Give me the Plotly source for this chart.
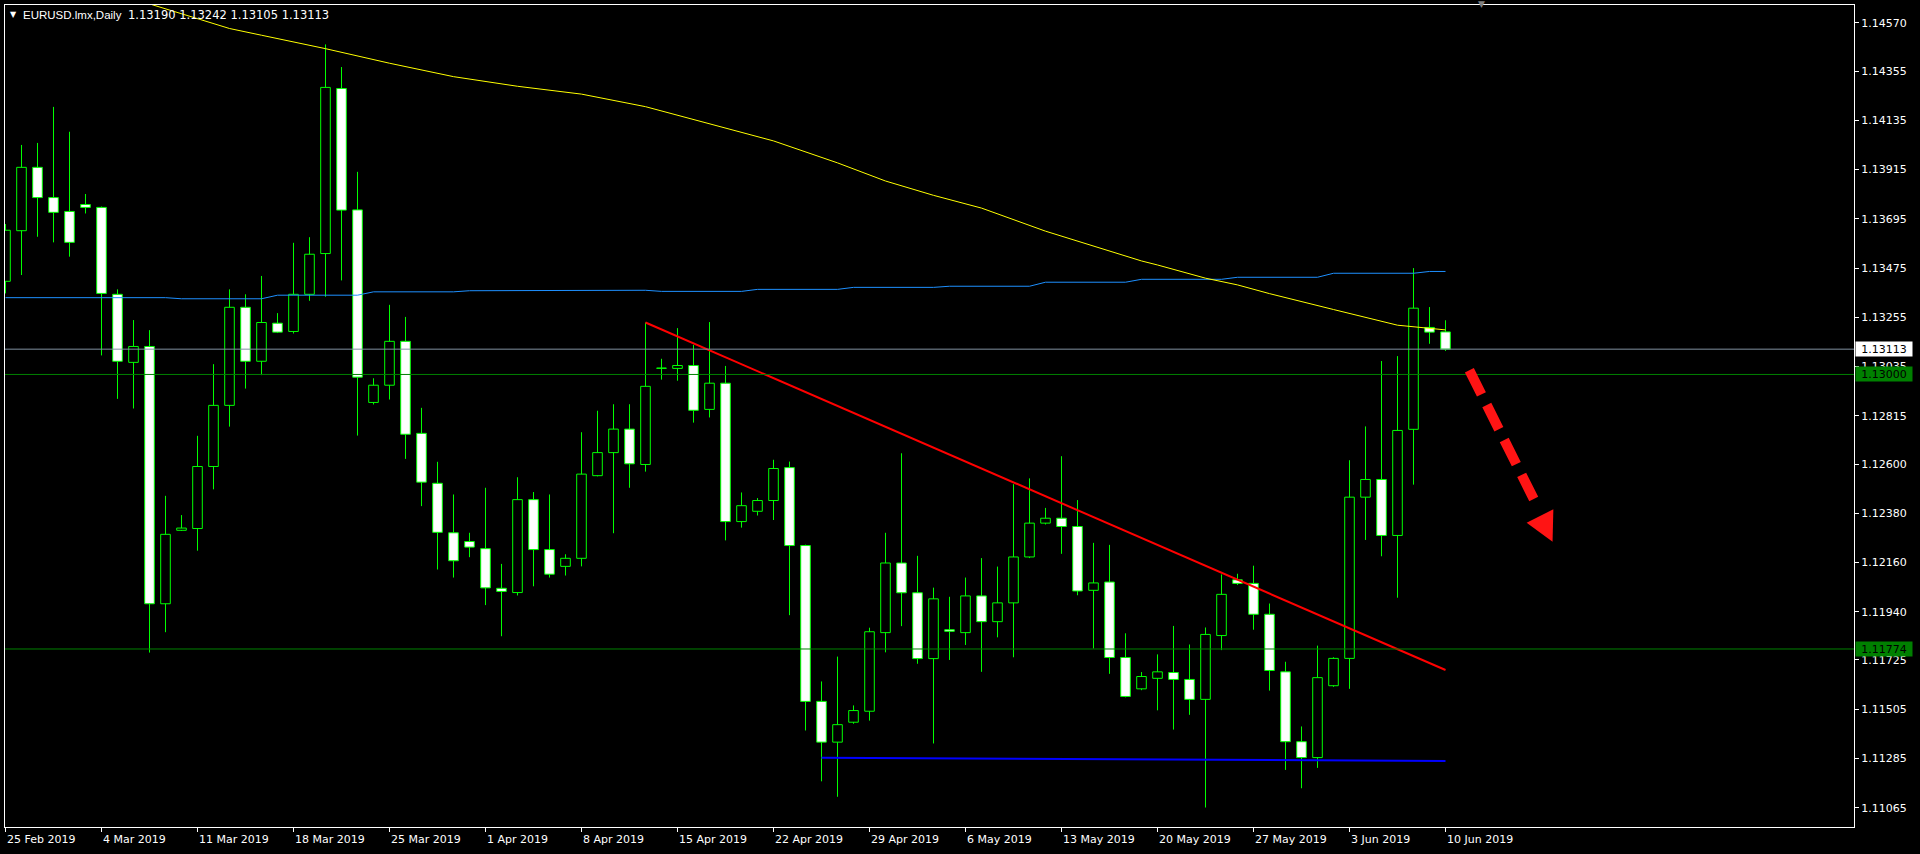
import plotly.graph_objects as go

# ---------------- data ----------------
date_labels = ["25 Feb 2019", "4 Mar 2019", "11 Mar 2019", "18 Mar 2019", "25 Mar 2019",
               "1 Apr 2019", "8 Apr 2019", "15 Apr 2019", "22 Apr 2019", "29 Apr 2019",
               "6 May 2019", "13 May 2019", "20 May 2019", "27 May 2019", "3 Jun 2019",
               "10 Jun 2019"]
date_label_bars = [0, 6, 12, 18, 24, 30, 36, 42, 48, 54, 60, 66, 72, 78, 84, 90]

opens = [1.13416, 1.13642, 1.13925, 1.13790, 1.13728, 1.13759, 1.13746, 1.13358, 1.13054, 1.13125,
         1.11976, 1.12304, 1.12312, 1.12589, 1.12862, 1.13300, 1.13059, 1.13229, 1.13192, 1.13358,
         1.13540, 1.14277, 1.13735, 1.12875, 1.12952, 1.13148, 1.12737, 1.12514, 1.12293, 1.12254,
         1.12222, 1.12045, 1.12026, 1.12441, 1.12218, 1.12143, 1.12179, 1.12548, 1.12651, 1.12756,
         1.12598, 1.13027, 1.13027, 1.13040, 1.12844, 1.12961, 1.12343, 1.12389, 1.12437, 1.12584,
         1.12236, 1.11540, 1.11358, 1.11447, 1.11496, 1.11847, 1.12158, 1.12025, 1.11731, 1.11860,
         1.11847, 1.12011, 1.11896, 1.11980, 1.12185, 1.12336, 1.12358, 1.12321, 1.12036, 1.12073,
         1.11736, 1.11596, 1.11643, 1.11669, 1.11638, 1.11549, 1.11834, 1.12083, 1.12067, 1.11929,
         1.11672, 1.11360, 1.11289, 1.11610, 1.11732, 1.12452, 1.12531, 1.12281, 1.12755, 1.13210,
         1.13190]
highs = [1.13672, 1.14025, 1.14034, 1.14195, 1.14084, 1.13806, 1.13750, 1.13380, 1.13243, 1.13198,
         1.12458, 1.12372, 1.12726, 1.13046, 1.13380, 1.13358, 1.13440, 1.13274, 1.13588, 1.13613,
         1.14474, 1.14373, 1.13905, 1.12983, 1.13311, 1.13257, 1.12851, 1.12610, 1.12464, 1.12293,
         1.12494, 1.12154, 1.12541, 1.12475, 1.12464, 1.12197, 1.12742, 1.12838, 1.12867, 1.12867,
         1.13232, 1.13070, 1.13207, 1.13132, 1.13234, 1.13038, 1.12473, 1.12448, 1.12619, 1.12611,
         1.12240, 1.11629, 1.11740, 1.11522, 1.11869, 1.12293, 1.12648, 1.12190, 1.12048, 1.12007,
         1.12093, 1.12180, 1.12142, 1.12510, 1.12536, 1.12404, 1.12635, 1.12439, 1.12248, 1.12239,
         1.11844, 1.11671, 1.11750, 1.11877, 1.11794, 1.11870, 1.12107, 1.12110, 1.12146, 1.11977,
         1.11717, 1.11428, 1.11789, 1.11737, 1.12617, 1.12768, 1.13060, 1.13082, 1.13475, 1.13301,
         1.13242]
lows = [1.13362, 1.13444, 1.13615, 1.13590, 1.13526, 1.13719, 1.13085, 1.12891, 1.12848, 1.11758,
        1.11849, 1.12301, 1.12213, 1.12487, 1.12767, 1.12937, 1.12997, 1.13185, 1.13183, 1.13329,
        1.13347, 1.13420, 1.12727, 1.12866, 1.12888, 1.12623, 1.12412, 1.12129, 1.12093, 1.12184,
        1.11970, 1.11831, 1.12013, 1.12054, 1.12093, 1.12102, 1.12143, 1.12545, 1.12291, 1.12494,
        1.12566, 1.12977, 1.12972, 1.12785, 1.12808, 1.12259, 1.12316, 1.12370, 1.12350, 1.11925,
        1.11410, 1.11183, 1.11114, 1.11440, 1.11454, 1.11759, 1.11876, 1.11708, 1.11352, 1.11725,
        1.11792, 1.11672, 1.11826, 1.11737, 1.12180, 1.12330, 1.12199, 1.12014, 1.11776, 1.11663,
        1.11558, 1.11590, 1.11500, 1.11414, 1.11480, 1.11066, 1.11769, 1.12060, 1.11860, 1.11588,
        1.11234, 1.11152, 1.11243, 1.11605, 1.11596, 1.12261, 1.12188, 1.12003, 1.12508, 1.13137,
        1.13105]
closes = [1.13644, 1.13925, 1.13790, 1.13724, 1.13590, 1.13746, 1.13362, 1.13059, 1.13125, 1.11976,
          1.12286, 1.12314, 1.12589, 1.12862, 1.13300, 1.13059, 1.13232, 1.13189, 1.13358, 1.13537,
          1.14282, 1.13734, 1.12988, 1.12952, 1.13148, 1.12733, 1.12519, 1.12295, 1.12168, 1.12229,
          1.12047, 1.12031, 1.12441, 1.12218, 1.12108, 1.12179, 1.12555, 1.12651, 1.12756, 1.12601,
          1.12947, 1.13029, 1.13040, 1.12840, 1.12961, 1.12343, 1.12414, 1.12437, 1.12580, 1.12236,
          1.11540, 1.11358, 1.11436, 1.11499, 1.11851, 1.12158, 1.12025, 1.11731, 1.11998, 1.11853,
          1.12011, 1.11896, 1.11980, 1.12185, 1.12336, 1.12358, 1.12321, 1.12033, 1.12069, 1.11736,
          1.11562, 1.11651, 1.11672, 1.11638, 1.11549, 1.11839, 1.12018, 1.12067, 1.11929, 1.11678,
          1.11360, 1.11289, 1.11646, 1.11732, 1.12452, 1.12531, 1.12281, 1.12750, 1.13296, 1.13189,
          1.13113]

# yellow moving average (bar index, value)
ma_yellow_bars = [9, 12, 14, 16, 20, 24, 28, 32, 36, 40, 44, 48, 52, 55, 58, 61, 65, 68, 71, 72,
                  75, 77, 79, 83, 87, 90]
ma_yellow = [1.14655, 1.14588, 1.14545, 1.14515, 1.14455, 1.14390, 1.14330, 1.14287, 1.14252,
             1.14196, 1.14118, 1.14043, 1.13945, 1.13864, 1.13800, 1.13743, 1.13640, 1.13572,
             1.13507, 1.13489, 1.13430, 1.13400, 1.13361, 1.13290, 1.13220, 1.13199]

# blue moving average: one value per trading week (week starts on the Sunday bar)
ma_blue_weekly = [1.13343, 1.13343, 1.13338, 1.13354, 1.13369, 1.13374, 1.13376, 1.13371,
                  1.13380, 1.13389, 1.13394, 1.13412, 1.13425, 1.13434, 1.13452, 1.13460]

# drawn objects
resistance_bars = [40, 90]
resistance_prices = [1.13232, 1.11680]
support_bars = [51, 90]
support_prices = [1.11288, 1.11274]
level_prices = [1.13000, 1.11774]
bid_price = 1.13113

price_ticks = [1.14570, 1.14355, 1.14135, 1.13915, 1.13695, 1.13475, 1.13255, 1.13035, 1.12815,
               1.12600, 1.12380, 1.12160, 1.11940, 1.11725, 1.11505, 1.11285, 1.11065]

symbol_text = "EURUSD.lmx,Daily"
ohlc_text = "1.13190 1.13242 1.13105 1.13113"

# ---------------- figure ----------------
GREEN = "#00FF00"
n = len(opens)
idx = list(range(n))

# wicks (upper and lower separately so hollow bodies stay empty)
wx, wy = [], []
for i in idx:
    top = max(opens[i], closes[i])
    bot = min(opens[i], closes[i])
    if highs[i] > top:
        wx += [i, i, None]
        wy += [top, highs[i], None]
    if lows[i] < bot:
        wx += [i, i, None]
        wy += [bot, lows[i], None]

bases = [min(o, c) for o, c in zip(opens, closes)]
heights = [max(abs(c - o), 0.000015) for o, c in zip(opens, closes)]
fills = ["#000000" if c >= o else "#FFFFFF" for o, c in zip(opens, closes)]

fig = go.Figure()
fig.add_trace(go.Bar(x=idx, y=heights, base=bases, width=0.6,
                     marker=dict(color=fills, line=dict(color=GREEN, width=1)),
                     hoverinfo="skip"))
fig.add_trace(go.Scatter(x=wx, y=wy, mode="lines", line=dict(color=GREEN, width=1),
                         hoverinfo="skip"))

# weekly blue MA expanded over the bars of each week
def week_of(i):
    return 0 if i < 5 else (i + 1) // 6

blue_vals = [ma_blue_weekly[week_of(i)] for i in idx]
fig.add_trace(go.Scatter(x=idx, y=blue_vals, mode="lines",
                         line=dict(color="#1E90FF", width=1), hoverinfo="skip"))
fig.add_trace(go.Scatter(x=ma_yellow_bars, y=ma_yellow, mode="lines",
                         line=dict(color="#FFFF00", width=1), hoverinfo="skip"))
fig.add_trace(go.Scatter(x=resistance_bars, y=resistance_prices, mode="lines",
                         line=dict(color="#FF0000", width=2), hoverinfo="skip"))
fig.add_trace(go.Scatter(x=support_bars, y=support_prices, mode="lines",
                         line=dict(color="#0000FF", width=2), hoverinfo="skip"))

shapes = []
for p in level_prices:
    shapes.append(dict(type="line", xref="paper", yref="y", x0=0, x1=1, y0=p, y1=p,
                       line=dict(color="#008000", width=1), layer="above"))
shapes.append(dict(type="line", xref="paper", yref="y", x0=0, x1=1, y0=bid_price, y1=bid_price,
                   line=dict(color="#8090A0", width=1), layer="above"))
# red dashed forecast arrow
shapes.append(dict(type="line", xref="x", yref="y", x0=91.49, y0=1.13019, x1=95.75, y1=1.12410,
                   line=dict(color="#FF1414", width=10, dash="27px,12px"), layer="above"))
shapes.append(dict(type="path", xref="x", yref="y",
                   path="M 95.07,1.12338 L 96.74,1.12398 L 96.69,1.12253 Z",
                   fillcolor="#FF1414", line=dict(width=0), layer="above"))

annotations = []
FONT = "DejaVu Sans"
for b, t in zip(date_label_bars, date_labels):
    annotations.append(dict(x=b, y=0, xref="x", yref="paper", text=t, showarrow=False,
                            xanchor="left", yanchor="top", xshift=-1, yshift=-4,
                            font=dict(family=FONT, size=11, color="#FFFFFF")))
# price boxes on the right scale
annotations.append(dict(x=1, y=bid_price, xref="paper", yref="y", text=f"{bid_price:.5f}",
                        showarrow=False, xanchor="left", yanchor="middle", xshift=1,
                        bgcolor="#FFFFFF", width=54, height=12, borderpad=1,
                        font=dict(family=FONT, size=11, color="#000000")))
for p in level_prices:
    annotations.append(dict(x=1, y=p, xref="paper", yref="y", text=f"{p:.5f}",
                            showarrow=False, xanchor="left", yanchor="middle", xshift=1,
                            bgcolor="#008000", width=54, height=12, borderpad=1,
                            font=dict(family=FONT, size=11, color="#000000")))
# header
annotations.append(dict(x=0, y=1, xref="paper", yref="paper", text="▼", showarrow=False,
                        xanchor="center", yanchor="middle", xshift=8, yshift=-9,
                        font=dict(family=FONT, size=8, color="#FFFFFF")))
annotations.append(dict(x=0, y=1, xref="paper", yref="paper", text=symbol_text, showarrow=False,
                        xanchor="left", yanchor="middle", xshift=16, yshift=-10,
                        font=dict(family="Liberation Sans", size=11.5, color="#FFFFFF")))
annotations.append(dict(x=0, y=1, xref="paper", yref="paper", text=ohlc_text, showarrow=False,
                        xanchor="left", yanchor="middle", xshift=121, yshift=-10,
                        font=dict(family=FONT, size=11.5, color="#FFFFFF")))
annotations.append(dict(x=0.7988, y=1, xref="paper", yref="paper", text="▼", showarrow=False,
                        xanchor="center", yanchor="middle", yshift=1,
                        font=dict(family=FONT, size=9, color="#808080")))

fig.update_layout(
    width=1920, height=854,
    margin=dict(l=5, r=66, t=5, b=27),
    paper_bgcolor="#000000", plot_bgcolor="#000000",
    showlegend=False, barmode="overlay",
    shapes=shapes, annotations=annotations,
    xaxis=dict(range=[-0.031, 115.53], showgrid=False, zeroline=False,
               tickmode="array", tickvals=date_label_bars, showticklabels=False,
               ticks="outside", ticklen=4, tickcolor="#FFFFFF",
               showline=True, linecolor="#FFFFFF", linewidth=1, mirror=True, fixedrange=True),
    yaxis=dict(range=[1.10979, 1.14650], side="right", showgrid=False, zeroline=False,
               tickmode="array", tickvals=price_ticks, ticktext=[f"{v:.5f}" for v in price_ticks],
               ticks="outside", ticklen=4, tickcolor="#FFFFFF",
               tickfont=dict(family=FONT, size=11, color="#FFFFFF"),
               showline=True, linecolor="#FFFFFF", linewidth=1, mirror=True, fixedrange=True),
)

fig.write_html("out.html", config={"displayModeBar": False},
               post_script="document.body.style.margin='0';document.body.style.background='#000';")
